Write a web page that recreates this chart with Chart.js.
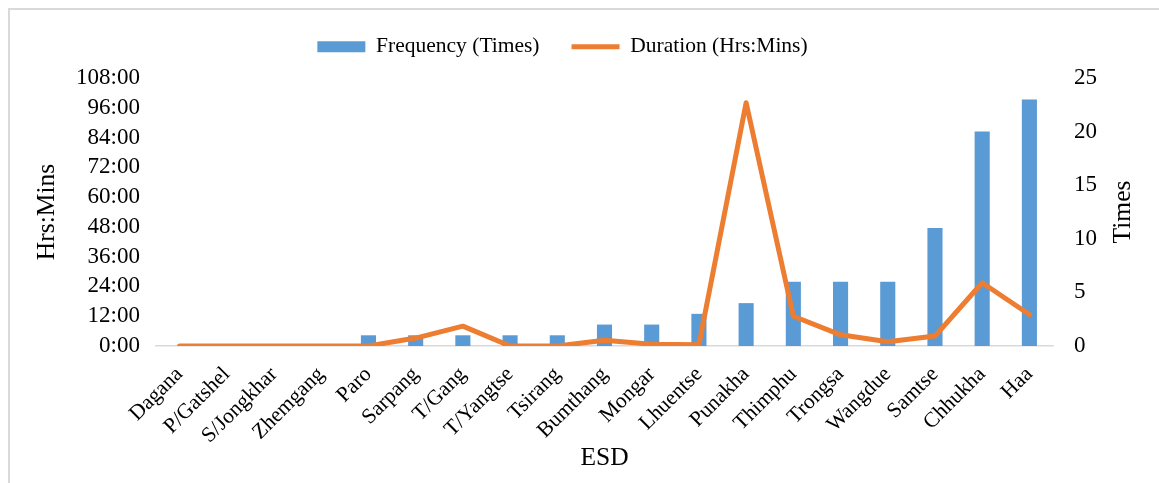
<!DOCTYPE html>
<html lang="en">
<head>
    <meta charset="UTF-8">
    <title>ESD Frequency and Duration</title>
    <style>
        body {
            margin: 0;
            background: #fff;
        }

        .frame {
            position: absolute;
            left: 8px;
            top: 8px;
            width: 1170px;
            height: 490px;
            border: 2px solid #d9d9d9;
        }

        .chartBox {
            position: absolute;
            left: 0;
            top: 0;
            width: 1159px;
            height: 483px;
        }
    </style>
</head>
<body>
    <div class="frame"></div>
    <div class="chartBox">
        <canvas id="chart"></canvas>
    </div>

    <script src="https://cdn.jsdelivr.net/npm/chart.js"></script>
    <script>
        const esd = ['Dagana', 'P/Gatshel', 'S/Jongkhar', 'Zhemgang', 'Paro', 'Sarpang', 'T/Gang',
            'T/Yangtse', 'Tsirang', 'Bumthang', 'Mongar', 'Lhuentse', 'Punakha', 'Thimphu',
            'Trongsa', 'Wangdue', 'Samtse', 'Chhukha', 'Haa'];
        // number of times
        const frequency = [0, 0, 0, 0, 1, 1, 1, 1, 1, 2, 2, 3, 4, 6, 6, 6, 11, 20, 23];
        // duration in hours
        const duration = [0, 0, 0, 0, 0, 3.2, 8, 0, 0, 2.3, 0.7, 0.5, 98, 12, 4.5, 1.7, 4, 25.5, 12.7];
        const hourTicks = [0, 12, 24, 36, 48, 60, 72, 84, 96, 108];
        const timeTicks = [0, 5, 10, 15, 20, 25];

        const fontFam = "'Liberation Serif', 'Times New Roman', serif";
        const tickFont = { family: fontFam, size: 23 };
        const titleFont = { family: fontFam, size: 25.5 };
        Chart.defaults.font.family = fontFam;
        Chart.defaults.font.size = 21.5;
        Chart.defaults.color = '#000';

        // right axis title reads bottom to top like the left one
        const rightTitle = {
            id: 'rightTitle',
            afterDraw(chart) {
                const ctx = chart.ctx;
                ctx.save();
                ctx.translate(1123, 212);
                ctx.rotate(-Math.PI / 2);
                ctx.font = titleFont.size + 'px ' + fontFam;
                ctx.fillStyle = '#000';
                ctx.textAlign = 'center';
                ctx.textBaseline = 'middle';
                ctx.fillText('Times', 0, 0);
                ctx.restore();
            }
        };

        // legend: fixed height so the plot starts at the same place, nudged left
        const legendFix = {
            id: 'legendFix',
            beforeInit(chart) {
                const fit = chart.legend.fit;
                chart.legend.fit = function () {
                    fit.call(this);
                    this.height = 74;
                };
            },
            afterLayout(chart) {
                chart.legend.left -= 17;
                chart.legend.right -= 17;
            }
        };

        const data = {
            labels: esd,
            datasets: [{
                type: 'bar',
                label: 'Frequency (Times)',
                data: frequency,
                yAxisID: 'yTimes',
                backgroundColor: '#5b9bd5',
                borderWidth: 0,
                barPercentage: 0.32,
                categoryPercentage: 1,
                pointStyle: 'rect',
                order: 2
            }, {
                type: 'line',
                label: 'Duration (Hrs:Mins)',
                data: duration,
                yAxisID: 'yHours',
                borderColor: '#ed7d31',
                backgroundColor: '#ed7d31',
                borderWidth: 5,
                borderCapStyle: 'round',
                borderJoinStyle: 'round',
                pointRadius: 0,
                pointStyle: 'line',
                tension: 0,
                order: 1
            }]
        };

        const config = {
            data: data,
            plugins: [rightTitle, legendFix],
            options: {
                responsive: true,
                maintainAspectRatio: false,
                animation: false,
                layout: {
                    padding: { top: 4, left: 0, right: 0, bottom: 0 }
                },
                plugins: {
                    tooltip: { enabled: false },
                    legend: {
                        position: 'top',
                        labels: {
                            usePointStyle: true,
                            pointStyleWidth: 48,
                            boxHeight: 11,
                            padding: 32,
                            color: '#000',
                            sort: (a, b) => a.datasetIndex - b.datasetIndex
                        }
                    }
                },
                scales: {
                    x: {
                        grid: { display: false },
                        border: { display: true, color: '#d9d9d9', width: 1.5 },
                        ticks: { minRotation: 45, maxRotation: 45, autoSkip: false, padding: 8 },
                        title: { display: true, text: 'ESD', font: titleFont, padding: { top: 0, bottom: 9.5 } },
                        afterFit(scale) { scale.height = 137; }
                    },
                    yHours: {
                        position: 'left',
                        min: 0,
                        max: 108,
                        grid: { display: false, drawTicks: false },
                        border: { display: false },
                        afterBuildTicks(scale) {
                            scale.ticks = hourTicks.map(v => ({ value: v }));
                        },
                        ticks: {
                            autoSkip: false,
                            padding: 16,
                            font: tickFont,
                            callback: v => v + ':00'
                        },
                        title: { display: true, text: 'Hrs:Mins', font: titleFont, padding: { top: 31.5, bottom: 0 } },
                        afterFit(scale) { scale.width = 156; }
                    },
                    yTimes: {
                        position: 'right',
                        min: 0,
                        max: 25,
                        grid: { display: false, drawTicks: false },
                        border: { display: false },
                        afterBuildTicks(scale) {
                            scale.ticks = timeTicks.map(v => ({ value: v }));
                        },
                        ticks: { autoSkip: false, padding: 21, font: tickFont },
                        afterFit(scale) { scale.width = 106; }
                    }
                }
            }
        };

        const myChart = new Chart(document.getElementById('chart'), config);
    </script>
</body>
</html>
